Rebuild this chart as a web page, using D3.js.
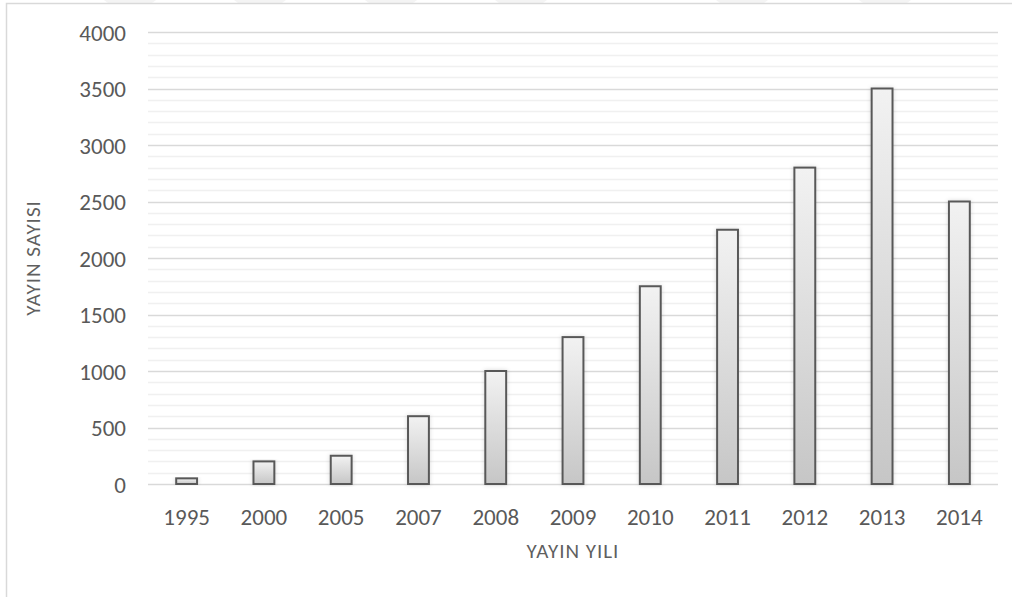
<!DOCTYPE html>
<html>
<head>
<meta charset="utf-8">
<script src="https://cdn.jsdelivr.net/npm/d3@7"></script>
<style>
  html, body { margin: 0; padding: 0; background: #fff; }
  svg { display: block; }
  text { font-family: Carlito, Calibri, Lato, "Open Sans", sans-serif; fill: #595959; }
</style>
</head>
<body>
<script>
// Publications per year
const years = ["1995", "2000", "2005", "2007", "2008", "2009", "2010", "2011", "2012", "2013", "2014"];
const counts = [50, 200, 250, 600, 1000, 1300, 1750, 2250, 2800, 3500, 2500];
const yTicks = [0, 500, 1000, 1500, 2000, 2500, 3000, 3500, 4000];
const xTitle = "YAYIN YILI";
const yTitle = "YAYIN SAYISI";

const W = 1021, H = 597;
const m = { left: 148, right: 23, top: 32, bottom: 113 };

const svg = d3.select("body").append("svg").attr("width", W).attr("height", H);

const defs = svg.append("defs");
const grad = defs.append("linearGradient")
  .attr("id", "barFill").attr("x1", 0).attr("y1", 0).attr("x2", 0).attr("y2", 1);
grad.append("stop").attr("offset", "0%").attr("stop-color", "#f2f2f2");
grad.append("stop").attr("offset", "100%").attr("stop-color", "#c6c6c6");

const shadow = defs.append("filter").attr("id", "soft")
  .attr("x", "-50%").attr("y", "-10%").attr("width", "200%").attr("height", "120%");
shadow.append("feDropShadow").attr("dx", 0).attr("dy", 0)
  .attr("stdDeviation", 2).attr("flood-color", "#000").attr("flood-opacity", 0.15);

// faint strip marks along the top edge
const topMarks = [104, 234, 365, 495, 716, 859];
svg.append("g").selectAll("path").data(topMarks).join("path")
  .attr("d", d => `M${d},0 L${d + 52},0 L${d + 48},3 L${d + 4},3 Z`)
  .attr("fill", "#f4f4f4");

// outer frame (top and left edges)
svg.append("path")
  .attr("d", "M6.5,597 L6.5,3.5 L1012,3.5")
  .attr("fill", "none").attr("stroke", "#d9d9d9").attr("stroke-width", 1.5);

const x = d3.scaleBand()
  .domain(years)
  .range([m.left, W - m.right])
  .paddingInner(0.73)
  .paddingOuter(0.365);

const y = d3.scaleLinear()
  .domain([0, 4000])
  .range([H - m.bottom, m.top]);

// minor gridlines every 100
const minor = d3.range(100, 4000, 100).filter(v => v % 500 !== 0);
svg.append("g").selectAll("line").data(minor).join("line")
  .attr("x1", m.left).attr("x2", W - m.right)
  .attr("y1", d => Math.round(y(d)) + 0.5).attr("y2", d => Math.round(y(d)) + 0.5)
  .attr("stroke", "#f0f0f0").attr("stroke-width", 1.5);

// major gridlines
svg.append("g").selectAll("line").data(yTicks).join("line")
  .attr("x1", m.left).attr("x2", W - m.right)
  .attr("y1", d => Math.round(y(d)) + 0.5).attr("y2", d => Math.round(y(d)) + 0.5)
  .attr("stroke", "#d9d9d9").attr("stroke-width", 1.5);

// y axis labels
const yAxis = d3.axisLeft(y).tickValues(yTicks).tickFormat(d3.format("d")).tickSize(0).tickPadding(0);
svg.append("g")
  .attr("transform", `translate(${m.left - 22},0)`)
  .call(yAxis)
  .call(g => g.select(".domain").remove())
  .selectAll("text")
  .style("font-size", "23px").style("font-weight", "300").attr("fill", "#5f5f5f").attr("dy", "0.36em");

// x axis labels
const xAxis = d3.axisBottom(x).tickSize(0).tickPadding(0);
svg.append("g")
  .attr("transform", `translate(0,${H - m.bottom + 33})`)
  .call(xAxis)
  .call(g => g.select(".domain").remove())
  .selectAll("text")
  .style("font-size", "23px").style("font-weight", "300").attr("fill", "#5f5f5f").attr("dy", "0.36em");

// bars
svg.append("g").selectAll("rect").data(counts).join("rect")
  .attr("x", (d, i) => x(years[i]))
  .attr("width", x.bandwidth())
  .attr("y", d => y(d))
  .attr("height", d => y(0) - y(d))
  .attr("fill", "url(#barFill)")
  .attr("stroke", "#595959")
  .attr("stroke-width", 2)
  .attr("filter", "url(#soft)");

// axis titles
svg.append("text")
  .attr("x", 573)
  .attr("y", 558)
  .attr("text-anchor", "middle")
  .style("font-size", "21px").style("font-weight", "300")
  .style("letter-spacing", "1px")
  .style("fill", "#5f5f5f")
  .text(xTitle);

svg.append("text")
  .attr("transform", `translate(40,258) rotate(-90)`)
  .attr("text-anchor", "middle")
  .style("font-size", "21px").style("font-weight", "300")
  .style("letter-spacing", "1px")
  .style("fill", "#5f5f5f")
  .text(yTitle);
</script>
</body>
</html>
